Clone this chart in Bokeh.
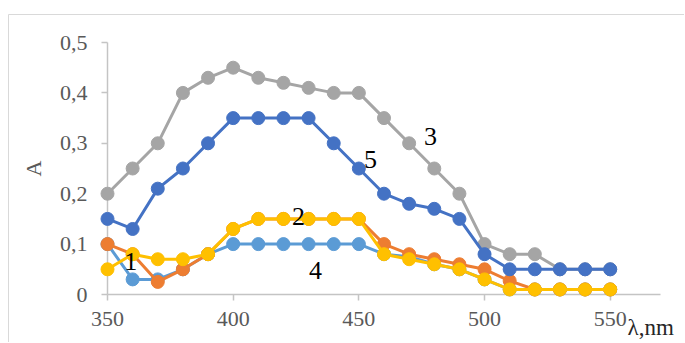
from bokeh.plotting import figure
from bokeh.models import FixedTicker, CustomJSTickFormatter, ColumnDataSource
from bokeh.core.properties import value
from bokeh.embed import file_html
from bokeh.resources import INLINE

wavelength = [350, 360, 370, 380, 390, 400, 410, 420, 430, 440, 450,
              460, 470, 480, 490, 500, 510, 520, 530, 540, 550]
curve1 = [0.10, 0.08, 0.025, 0.05, 0.08, 0.13, 0.15, 0.15, 0.15, 0.15, 0.15,
          0.10, 0.08, 0.07, 0.06, 0.05, 0.027, 0.01, 0.01, 0.01, 0.01]
curve2 = [0.05, 0.08, 0.07, 0.07, 0.08, 0.13, 0.15, 0.15, 0.15, 0.15, 0.15,
          0.08, 0.07, 0.06, 0.05, 0.03, 0.01, 0.01, 0.01, 0.01, 0.01]
curve3 = [0.20, 0.25, 0.30, 0.40, 0.43, 0.45, 0.43, 0.42, 0.41, 0.40, 0.40,
          0.35, 0.30, 0.25, 0.20, 0.10, 0.08, 0.08, 0.05, 0.05, 0.05]
curve4 = [0.10, 0.03, 0.03, 0.05, 0.08, 0.10, 0.10, 0.10, 0.10, 0.10, 0.10,
          0.08, 0.075, 0.06, 0.05, 0.03, 0.01, 0.01, 0.01, 0.01, 0.01]
curve5 = [0.15, 0.13, 0.21, 0.25, 0.30, 0.35, 0.35, 0.35, 0.35, 0.30, 0.25,
          0.20, 0.18, 0.17, 0.15, 0.08, 0.05, 0.05, 0.05, 0.05, 0.05]

x_ticks = [350, 400, 450, 500, 550]
y_ticks = [0, 0.1, 0.2, 0.3, 0.4, 0.5]

curve_names = ["3", "5", "2", "1", "4"]
name_x = [478.5, 454.6, 426.0, 359.2, 432.7]
name_y = [0.313, 0.267, 0.155, 0.066, 0.048]

x_title = "λ,nm"
y_title = "A"

SERIF = "'Liberation Serif'"

# layout constants (pixels)
W, H = 684, 342
LEFT, RIGHT, TOP, BOTTOM = 107, 24, 42, 48
X0, X1, Y0, Y1 = 350, 570, 0, 0.5

p = figure(width=W, height=H, output_backend="svg", toolbar_location=None,
           x_range=(X0, X1), y_range=(Y0, Y1),
           min_border_left=LEFT, min_border_right=RIGHT,
           min_border_top=TOP, min_border_bottom=BOTTOM)
p.outline_line_color = None
p.grid.visible = False

fmt = CustomJSTickFormatter(code="return tick === 0 ? '0' : tick.toFixed(1).replace('.', ',');")

for ax in (p.xaxis[0], p.yaxis[0]):
    ax.axis_line_color = "#C4C4C4"
    ax.axis_line_width = 1.5
    ax.major_tick_line_color = "#C4C4C4"
    ax.major_tick_line_width = 1.5
    ax.major_tick_in = 0
    ax.major_tick_out = 6
    ax.minor_tick_line_color = None
    ax.major_label_text_font = SERIF
    ax.major_label_text_font_size = "22px"
    ax.major_label_text_color = "#595959"

p.xaxis.ticker = FixedTicker(ticks=x_ticks)
p.xaxis.major_label_standoff = 11

p.yaxis.ticker = FixedTicker(ticks=y_ticks)
p.yaxis.formatter = fmt
p.yaxis.major_label_standoff = 14
p.yaxis.axis_label = y_title
p.yaxis.axis_label_text_font = SERIF
p.yaxis.axis_label_text_font_style = "normal"
p.yaxis.axis_label_text_font_size = "22px"
p.yaxis.axis_label_text_color = "#595959"
p.yaxis.axis_label_standoff = 11

# light chart-area border (top and left), placed from pixel constants
px_x = (W - LEFT - RIGHT) / (X1 - X0)
px_y = (H - TOP - BOTTOM) / (Y1 - Y0)
bx = X0 - (LEFT - 8) / px_x
by = Y1 + (TOP - 14) / px_y
p.line([bx, bx, X1 + 100], [Y0 - 1, by, by], line_color="#D9D9D9", line_width=1, level="overlay")

series = [
    (curve3, "#A5A5A5"),
    (curve4, "#5B9BD5"),
    (curve1, "#ED7D31"),
    (curve5, "#4472C4"),
    (curve2, "#FFC000"),
]
for ys, col in series:
    src = ColumnDataSource(dict(x=wavelength, y=ys))
    p.line("x", "y", source=src, line_color=col, line_width=3, level="overlay")
    p.scatter("x", "y", source=src, size=13, fill_color=col, line_color=col, level="overlay")

lab_src = ColumnDataSource(dict(x=name_x, y=name_y, t=curve_names))
p.text("x", "y", text="t", source=lab_src, text_font=value(SERIF), text_font_size="26px",
       text_color="black", text_align="center", text_baseline="middle", level="overlay")

xt_src = ColumnDataSource(dict(x=[556.9], y=[-0.066], t=[x_title]))
p.text("x", "y", text="t", source=xt_src, text_font=value(SERIF), text_font_size="23px",
       text_color="#262626", text_align="left", text_baseline="middle", level="overlay")

open("out.html", "w").write(file_html(p, INLINE))
